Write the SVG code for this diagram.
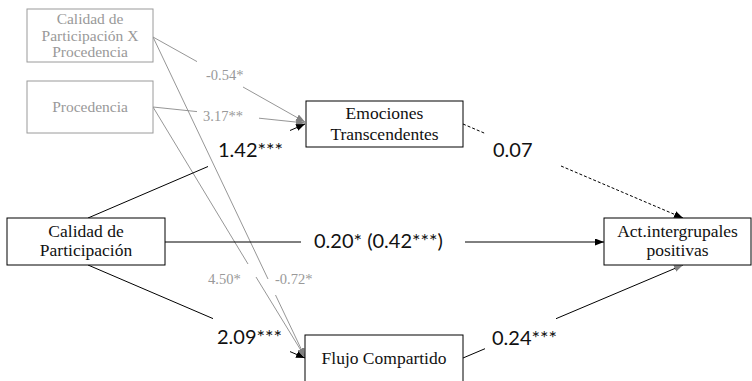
<svg xmlns="http://www.w3.org/2000/svg" width="752" height="381" viewBox="0 0 752 381">
<style>
.box{fill:#fff;stroke:#000;stroke-width:1}
.gbox{fill:#fff;stroke:#9a9a9a;stroke-width:1}
.t{font-family:"Liberation Serif",serif;font-size:17.5px;fill:#111;text-anchor:middle}
.gt{font-family:"Liberation Serif",serif;font-size:15.5px;fill:#999;text-anchor:middle}
.gl{font-family:"Liberation Serif",serif;font-size:14.5px;fill:#999}
.bl{font-family:"Lato",sans-serif;font-size:20px;fill:#111}
.k{stroke:#000;stroke-width:1;fill:none}
.g{stroke:#8a8a8a;stroke-width:0.9;fill:none}
.d{stroke:#000;stroke-width:1;fill:none;stroke-dasharray:3 2}
</style>
<defs>
<marker id="ak" markerWidth="9" markerHeight="7" refX="9" refY="3.5" orient="auto" markerUnits="userSpaceOnUse"><path d="M0,0 L9,3.5 L0,7 z" fill="#000"/></marker>
<marker id="ag" markerWidth="9" markerHeight="7" refX="9" refY="3.5" orient="auto" markerUnits="userSpaceOnUse"><path d="M0,0 L9,3.5 L0,7 z" fill="#808080"/></marker>
</defs>
<rect width="752" height="381" fill="#fff"/>
<g id="connectors">
<line class="g" x1="153" y1="37" x2="197" y2="61.6"/>
<line class="g" x1="243" y1="87" x2="305" y2="122" marker-end="url(#ag)"/>
<line class="g" x1="153" y1="107" x2="197" y2="111.6"/>
<line class="g" x1="259" y1="118.2" x2="305" y2="123" marker-end="url(#ag)"/>
<line class="g" x1="153" y1="37" x2="268" y2="279"/>
<line class="g" x1="275.5" y1="295" x2="305" y2="357" marker-end="url(#ag)"/>
<line class="g" x1="153" y1="107" x2="248" y2="264"/>
<line class="g" x1="256" y1="277" x2="305" y2="357" marker-end="url(#ag)"/>
<line class="k" x1="88" y1="218" x2="208" y2="166.5"/>
<line class="k" x1="290" y1="130.5" x2="305" y2="124" marker-end="url(#ak)"/>
<line class="k" x1="88" y1="265" x2="213" y2="318.6"/>
<line class="k" x1="290" y1="351.6" x2="305" y2="358" marker-end="url(#ak)"/>
<line class="k" x1="165" y1="242" x2="301" y2="242"/>
<line class="k" x1="465" y1="242" x2="604" y2="242" marker-end="url(#ak)"/>
<line class="d" x1="463" y1="124" x2="485" y2="133.4"/>
<line class="d" x1="561" y1="166" x2="683" y2="218" marker-end="url(#ak)"/>
<line class="k" x1="463" y1="358" x2="485" y2="348.7"/>
<line class="k" x1="556" y1="318.7" x2="683" y2="265" marker-end="url(#ag)"/>
<text class="gl" x="206" y="80">-0.54*</text>
<text class="gl" x="203" y="121">3.17**</text>
<text class="gl" x="208" y="284">4.50*</text>
<text class="gl" x="275" y="284">-0.72*</text>
<text class="bl" x="218" y="157">1.42***</text>
<text class="bl" x="217" y="344">2.09***</text>
<text class="bl" x="314" y="248">0.20* (0.42***)</text>
<text class="bl" x="493" y="157">0.07</text>
<text class="bl" x="492" y="345">0.24***</text>
</g>
<g id="n-cxp">
<rect class="gbox" x="27" y="9" width="126" height="53"/>
<text class="gt" x="90" y="24">Calidad de</text>
<text class="gt" x="90" y="40.5">Participación X</text>
<text class="gt" x="90" y="57">Procedencia</text>
</g>
<g id="n-proc">
<rect class="gbox" x="27" y="81" width="126" height="52"/>
<text class="gt" x="90" y="112">Procedencia</text>
</g>
<g id="n-emo">
<rect class="box" x="306" y="101" width="157" height="46"/>
<text class="t" x="384.5" y="119">Emociones</text>
<text class="t" x="384.5" y="140">Transcendentes</text>
</g>
<g id="n-cal">
<rect class="box" x="7" y="218" width="158" height="47"/>
<text class="t" x="86" y="237">Calidad de</text>
<text class="t" x="86" y="256">Participación</text>
</g>
<g id="n-act">
<rect class="box" x="604" y="218" width="147" height="47"/>
<text class="t" x="677.5" y="237">Act.intergrupales</text>
<text class="t" x="677.5" y="256">positivas</text>
</g>
<g id="n-flujo">
<rect class="box" x="305" y="335" width="158" height="52"/>
<text class="t" x="384" y="364">Flujo Compartido</text>
</g>
</svg>
